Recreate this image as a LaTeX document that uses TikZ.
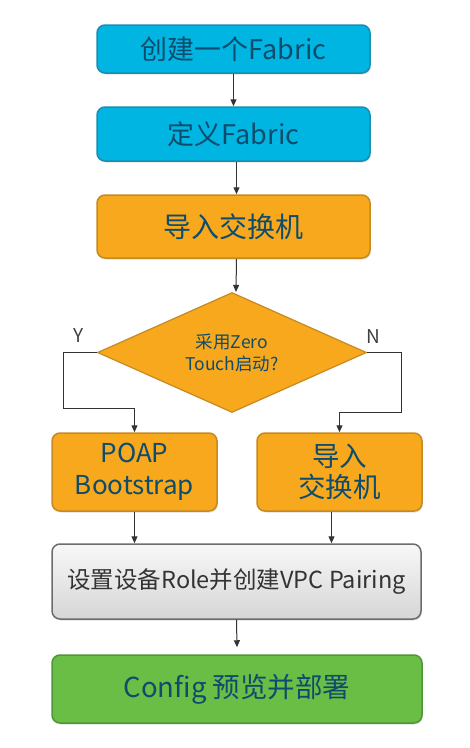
\documentclass[tikz,border=0pt]{standalone}
\usepackage{fontspec}
\setmainfont{Noto Sans CJK SC}
\usetikzlibrary{shapes.geometric,arrows.meta,shadows}
\definecolor{cblue}{HTML}{00B5E2}
\definecolor{cblueb}{HTML}{1A8DB0}
\definecolor{corange}{HTML}{F7A81C}
\definecolor{coranged}{HTML}{C58A22}
\definecolor{cgreen}{HTML}{6ABD45}
\definecolor{cgreend}{HTML}{4E9636}
\definecolor{ctext}{HTML}{0E4C6E}
\definecolor{cline}{HTML}{333333}
\tikzset{
  box/.style={rectangle, rounded corners=8pt, line width=1.5pt, inner sep=0pt, align=center, text=ctext,
    drop shadow={opacity=0.25, shadow xshift=0.8pt, shadow yshift=-1.5pt}},
  bluebox/.style={box, fill=cblue, draw=cblueb},
  orangebox/.style={box, fill=corange, draw=coranged},
  greenbox/.style={box, fill=cgreen, draw=cgreend},
  graybox/.style={box, top color=gray!6, bottom color=gray!32, draw=gray!85!black, text=black!80},
  arr/.style={draw=cline, line width=1pt, -{Triangle[length=7pt,width=6pt]}},
  lbl/.style={text=black!75, font=\fontsize{19}{19}\selectfont}
}
\begin{document}
\begin{tikzpicture}[x=1pt,y=-1pt]
\useasboundingbox (0,0) rectangle (470,748);
\node[bluebox, minimum width=273pt, minimum height=48pt, font=\fontsize{27}{27}\selectfont] (b1) at (233.5,49) {创建一个Fabric};
\node[bluebox, minimum width=273pt, minimum height=54pt, font=\fontsize{27}{27}\selectfont] (b2) at (233.5,134) {定义Fabric};
\node[orangebox, minimum width=273pt, minimum height=63pt, font=\fontsize{28}{28}\selectfont] (b3) at (233.5,226.5) {导入交换机};
\node[diamond, aspect=2.2, inner sep=0pt, minimum width=269pt, minimum height=120pt, fill=corange, draw=coranged, line width=1.2pt, text=ctext, align=center, font=\fontsize{17.5}{22}\selectfont] (d) at (232,352.5) {采用Zero\\Touch启动?};
\node[orangebox, minimum width=165pt, minimum height=78pt, font=\fontsize{26}{32}\selectfont] (poap) at (134.5,472) {POAP\\Bootstrap};
\node[orangebox, minimum width=165pt, minimum height=78pt, font=\fontsize{27.5}{31}\selectfont] (imp) at (339.5,472) {导入\\交换机};
\node[graybox, minimum width=369pt, minimum height=75pt, font=\fontsize{23.5}{23.5}\selectfont] (g) at (236.5,581.5) {设置设备Role并创建VPC Pairing};
\node[greenbox, minimum width=370pt, minimum height=68pt, font=\fontsize{27.5}{27.5}\selectfont] (cfg) at (237,689) {Config 预览并部署};
\node[lbl] (ly) at (79,336) {Y};
\node[lbl] (ln) at (373,337) {N};
\draw[arr] (b1) -- (b2);
\draw[arr] ([xshift=3pt]b2.south) -- ([xshift=3pt]b3.north);
\draw[arr] ([xshift=3pt]b3.south) -- ([xshift=4pt]d.north);
\draw[arr] (d.west) -- (63,352.5) -- (63,408) -| (poap.north);
\draw[arr] (d.east) -- (401,352.5) -- (401,412) -| (imp.north);
\draw[arr] (poap.south) -- (poap.south |- g.north);
\draw[arr] ([xshift=-8pt]imp.south) -- ([xshift=-8pt]imp.south |- g.north);
\draw[arr] (g.south) -- ([yshift=7pt]cfg.north);
\end{tikzpicture}
\end{document}
